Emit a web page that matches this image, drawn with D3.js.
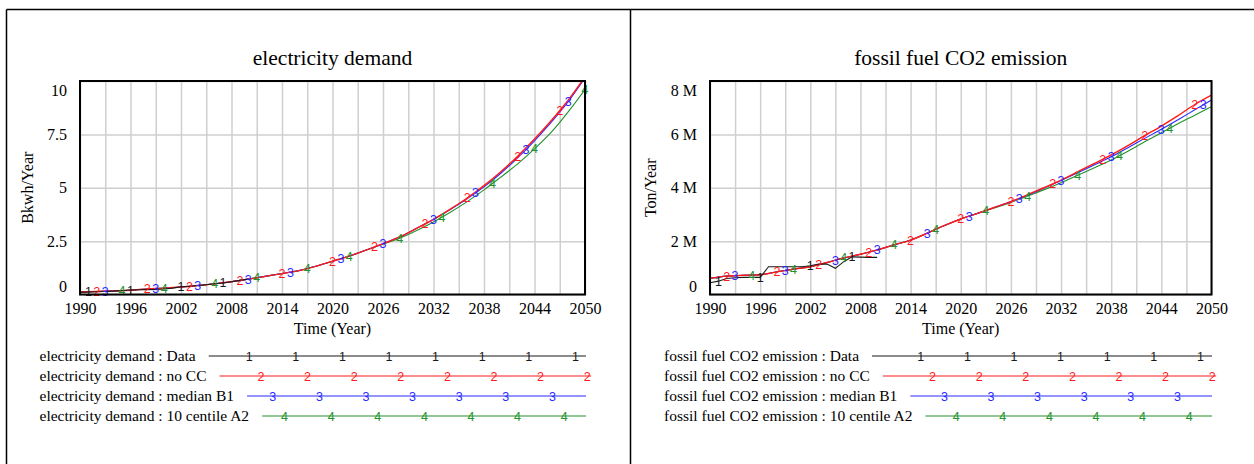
<!DOCTYPE html>
<html>
<head>
<meta charset="utf-8">
<script src="https://cdn.jsdelivr.net/npm/d3@7"></script>
<style>
  html, body { margin: 0; padding: 0; background: #fff; }
  svg { display: block; }
</style>
</head>
<body>
<svg id="chart" width="1254" height="464"></svg>
<script>
// ---- data -------------------------------------------------------------
const modelYears = d3.range(1990, 2051, 2);
const dataYears = d3.range(1990, 2011, 1);

// electricity demand (Bkwh/Year)
const elecData = [0.1, 0.12, 0.13, 0.14, 0.16, 0.19, 0.21, 0.22, 0.23, 0.24, 0.26,
  0.3, 0.36, 0.39, 0.42, 0.46, 0.5, 0.54, 0.6, 0.66, 0.72];
const elecNoCC = [0.12, 0.14, 0.17, 0.2, 0.26, 0.3, 0.35, 0.42, 0.5, 0.6, 0.72,
  0.85, 0.98, 1.12, 1.32, 1.56, 1.8, 2.08, 2.38, 2.7, 3.1, 3.52, 4.0, 4.52,
  5.1, 5.75, 6.48, 7.28, 8.15, 9.1, 10.2];
const elecMedianB1 = [0.12, 0.14, 0.17, 0.2, 0.26, 0.3, 0.35, 0.42, 0.5, 0.6, 0.72,
  0.85, 0.98, 1.12, 1.32, 1.56, 1.8, 2.08, 2.38, 2.7, 3.1, 3.52, 3.98, 4.48,
  5.04, 5.68, 6.4, 7.2, 8.07, 9.03, 10.15];
const elecCentileA2 = [0.12, 0.14, 0.17, 0.2, 0.26, 0.3, 0.35, 0.42, 0.5, 0.6, 0.72,
  0.85, 0.98, 1.12, 1.32, 1.56, 1.8, 2.08, 2.36, 2.64, 3.0, 3.4, 3.85, 4.35,
  4.9, 5.5, 6.12, 6.82, 7.6, 8.55, 9.6];

// fossil fuel CO2 emission (million Ton/Year)
const co2Data = [0.44, 0.5, 0.6, 0.63, 0.64, 0.64, 0.64, 1.04, 1.04, 1.04, 1.04,
  1.04, 1.08, 1.14, 1.14, 0.98, 1.23, 1.41, 1.4, 1.39, 1.39];
const co2NoCC = [0.61, 0.69, 0.72, 0.74, 0.85, 0.95, 1.04, 1.2, 1.37, 1.51, 1.67,
  1.86, 2.04, 2.3, 2.58, 2.83, 3.04, 3.26, 3.48, 3.74, 4.01, 4.29, 4.6, 4.91,
  5.23, 5.58, 5.95, 6.31, 6.7, 7.12, 7.47];
const co2MedianB1 = [0.61, 0.69, 0.72, 0.74, 0.85, 0.95, 1.04, 1.2, 1.37, 1.51, 1.67,
  1.86, 2.04, 2.3, 2.58, 2.83, 3.04, 3.26, 3.48, 3.72, 3.99, 4.27, 4.56, 4.86,
  5.16, 5.5, 5.85, 6.19, 6.55, 6.92, 7.29];
const co2CentileA2 = [0.61, 0.69, 0.72, 0.74, 0.85, 0.95, 1.04, 1.2, 1.37, 1.51, 1.67,
  1.86, 2.04, 2.3, 2.58, 2.83, 3.04, 3.24, 3.45, 3.69, 3.93, 4.19, 4.47, 4.75,
  5.04, 5.37, 5.72, 6.06, 6.4, 6.72, 7.04];

// years at which each run carries its numbered marker
const elecMarkerYears = [
  [1991, 1996, 2002, 2007],
  [1992, 1998, 2003, 2009, 2014, 2020, 2025, 2031, 2036, 2042, 2047],
  [1993, 1999, 2004, 2010, 2015, 2021, 2026, 2032, 2037, 2043, 2048],
  [1995, 2000, 2006, 2011, 2017, 2022, 2028, 2033, 2039, 2044, 2050]
];
const co2MarkerYears = [
  [1991, 1996, 2002, 2007],
  [1992, 1998, 2003, 2009, 2014, 2020, 2026, 2031, 2037, 2042, 2048],
  [1993, 1999, 2005, 2010, 2016, 2021, 2027, 2032, 2038, 2044, 2049],
  [1995, 2000, 2006, 2012, 2017, 2023, 2028, 2034, 2039, 2045]
];

const runNames = ["Data", "no CC", "median B1", "10 centile A2"];
const xTickYears = [1990, 1996, 2002, 2008, 2014, 2020, 2026, 2032, 2038, 2044, 2050];
const xGridYears = d3.range(1990, 2051, 3);
const elecTicks = [0, 2.5, 5, 7.5, 10];
const elecTickLabels = ["0", "2.5", "5", "7.5", "10"];
const co2Ticks = [0, 2, 4, 6, 8];
const co2TickLabels = ["0", "2 M", "4 M", "6 M", "8 M"];

// ---- styles -----------------------------------------------------------
const runColors = ["#1a1a1a", "#ff1a1a", "#2a2aff", "#22922a"];
const serif = "'Liberation Serif', 'Times New Roman', serif";
const sans = "'Liberation Sans', Arial, sans-serif";

const svg = d3.select("#chart");
svg.append("rect").attr("width", 1254).attr("height", 464).attr("fill", "#fff");

// page frame
const frame = svg.append("g").attr("stroke", "#000").attr("stroke-width", 1.5);
frame.append("line").attr("x1", 6.5).attr("x2", 1254).attr("y1", 9.5).attr("y2", 9.5);
frame.append("line").attr("x1", 6.5).attr("x2", 6.5).attr("y1", 9.5).attr("y2", 464);
frame.append("line").attr("x1", 630.5).attr("x2", 630.5).attr("y1", 9.5).attr("y2", 464);

function drawPanel(cfg) {
  const g = svg.append("g");
  const x = d3.scaleLinear().domain([1990, 2050]).range([cfg.left, cfg.right]);
  const y = d3.scaleLinear().domain(cfg.yDomain).range([cfg.bottom, cfg.top]);
  const w = cfg.right - cfg.left, h = cfg.bottom - cfg.top;

  // grid
  g.append("g")
    .attr("transform", `translate(0,${cfg.bottom})`)
    .call(d3.axisBottom(x).tickValues(xGridYears).tickSize(-h).tickFormat(""))
    .call(s => s.select(".domain").remove())
    .call(s => s.selectAll("line").attr("stroke", "#cfcfcf").attr("stroke-width", 1.5));
  g.append("g")
    .attr("transform", `translate(${cfg.left},0)`)
    .call(d3.axisLeft(y).tickValues(cfg.yTicks).tickSize(-w).tickFormat(""))
    .call(s => s.select(".domain").remove())
    .call(s => s.selectAll("line").attr("stroke", "#cfcfcf").attr("stroke-width", 1.5));

  // x tick labels
  g.append("g")
    .attr("transform", `translate(0,${cfg.bottom})`)
    .call(d3.axisBottom(x).tickValues(xTickYears).tickSize(0).tickPadding(8.5).tickFormat(d3.format("d")))
    .call(s => s.select(".domain").remove())
    .call(s => s.selectAll("text").attr("font-family", serif).attr("font-size", 16).attr("fill", "#000"));

  // y tick labels; end labels are pulled inside the frame
  const last = cfg.yTicks.length - 1;
  g.append("g")
    .attr("transform", `translate(${cfg.left},0)`)
    .call(d3.axisLeft(y).tickValues(cfg.yTicks).tickSize(0).tickPadding(13)
      .tickFormat((d, i) => cfg.yTickLabels[i]))
    .call(s => s.select(".domain").remove())
    .call(s => s.selectAll("text")
      .attr("font-family", serif).attr("font-size", 16).attr("fill", "#000")
      .attr("y", (d, i) => i === 0 ? -8.5 : (i === last ? 9 : 0)));

  // titles
  g.append("text").attr("x", (cfg.left + cfg.right) / 2).attr("y", 65)
    .attr("text-anchor", "middle").attr("font-family", serif).attr("font-size", 21.5)
    .text(cfg.title);
  g.append("text").attr("x", (cfg.left + cfg.right) / 2).attr("y", 334)
    .attr("text-anchor", "middle").attr("font-family", serif).attr("font-size", 16)
    .text("Time (Year)");
  g.append("text")
    .attr("transform", `translate(${cfg.yTitleX},${(cfg.top + cfg.bottom) / 2}) rotate(-90)`)
    .attr("text-anchor", "middle").attr("font-family", serif).attr("font-size", 16)
    .attr("dy", "0.35em")
    .text(cfg.unit);

  // series
  const clipId = "clip-" + cfg.id;
  g.append("clipPath").attr("id", clipId).append("rect")
    .attr("x", cfg.left).attr("y", cfg.top).attr("width", w).attr("height", h);

  const runs = cfg.series.map((vals, i) => ({
    i,
    pts: (i === 0 ? dataYears : modelYears).map((yr, k) => [yr, vals[k]])
  }));

  const valueAt = (pts, yr) =>
    d3.scaleLinear().domain(pts.map(p => p[0])).range(pts.map(p => p[1])).clamp(true)(yr);

  const lines = g.append("g").attr("clip-path", `url(#${clipId})`);
  runs.slice().reverse().forEach(r => {
    const line = d3.line()
      .x(d => x(d[0])).y(d => y(d[1]))
      .curve(r.i === 0 ? d3.curveLinear : d3.curveMonotoneX);
    lines.append("path").attr("d", line(r.pts))
      .attr("fill", "none").attr("stroke", runColors[r.i])
      .attr("stroke-width", r.i === 1 ? 1.4 : 1.1);
  });

  const marks = g.append("g").attr("font-family", sans).attr("font-size", 12.5)
    .attr("text-anchor", "middle");
  runs.slice().reverse().forEach(r => {
    cfg.markerYears[r.i].forEach(yr => {
      marks.append("text")
        .attr("x", x(yr)).attr("y", y(valueAt(r.pts, yr)))
        .attr("dy", "0.36em").attr("fill", runColors[r.i])
        .text(String(r.i + 1));
    });
  });

  // plot frame
  g.append("rect").attr("x", cfg.left).attr("y", cfg.top)
    .attr("width", w).attr("height", h)
    .attr("fill", "none").attr("stroke", "#000").attr("stroke-width", 2);

  // legend: name, then a line carrying the run's number at regular steps
  const leg = g.append("g");
  const step = 46.6, shift = 11.8;
  runNames.forEach((name, i) => {
    const cy = 356 + i * 20;
    const t = leg.append("text")
      .attr("x", cfg.legendX).attr("y", cy + 5)
      .attr("font-family", serif).attr("font-size", 15.5)
      .text(cfg.title + " : " + name);
    const x0 = cfg.legendX + t.node().getComputedTextLength() + 13;
    const xs = [];
    for (let k = -2; k < 20; k++) {
      const mx = cfg.legendPhase + shift * i + step * k;
      if (mx > x0 + 5 && mx <= cfg.legendEnd + 3) xs.push(mx);
    }
    const x1 = Math.max(cfg.legendEnd, (xs.length ? xs[xs.length - 1] : 0) + 4);
    leg.append("line").attr("x1", x0).attr("x2", x1).attr("y1", cy).attr("y2", cy)
      .attr("stroke", runColors[i]).attr("stroke-width", 1.2);
    xs.forEach(mx => {
      leg.append("text").attr("x", mx).attr("y", cy).attr("dy", "0.36em")
        .attr("text-anchor", "middle").attr("font-family", sans).attr("font-size", 12.5)
        .attr("fill", runColors[i]).text(String(i + 1));
    });
  });
}

drawPanel({
  id: "elec", title: "electricity demand", unit: "Bkwh/Year",
  left: 80, right: 585, top: 81, bottom: 294.5, yTitleX: 27,
  yDomain: [0, 10], yTicks: elecTicks, yTickLabels: elecTickLabels,
  series: [elecData, elecNoCC, elecMedianB1, elecCentileA2],
  markerYears: elecMarkerYears,
  legendX: 39.5, legendPhase: 249.2, legendEnd: 586
});

drawPanel({
  id: "co2", title: "fossil fuel CO2 emission", unit: "Ton/Year",
  left: 710, right: 1211.5, top: 81, bottom: 294.5, yTitleX: 650,
  yDomain: [0, 8], yTicks: co2Ticks, yTickLabels: co2TickLabels,
  series: [co2Data, co2NoCC, co2MedianB1, co2CentileA2],
  markerYears: co2MarkerYears,
  legendX: 664, legendPhase: 920.8, legendEnd: 1212
});
</script>
</body>
</html>
